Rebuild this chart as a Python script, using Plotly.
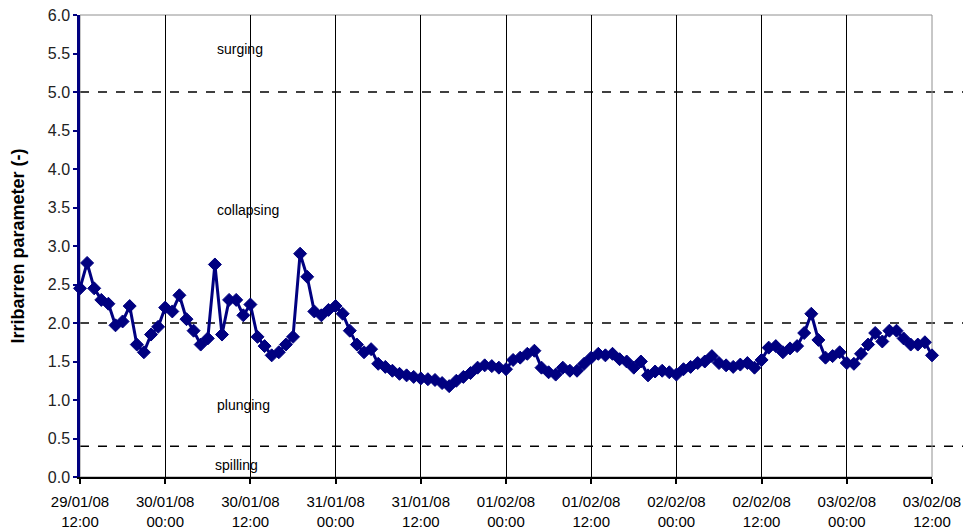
import pandas as pd
import plotly.graph_objects as go

start_time = "2008-01-29 12:00"
end_time = "2008-02-03 12:00"

# Hourly Irribarren parameter values
iribarren = [
    2.45, 2.78, 2.45, 2.30, 2.25, 1.97, 2.02, 2.22, 1.72, 1.62, 1.85, 1.95,
    2.20, 2.15, 2.36, 2.05, 1.90, 1.72, 1.80, 2.76, 1.85, 2.30, 2.30, 2.10,
    2.24, 1.82, 1.70, 1.58, 1.62, 1.72, 1.82, 2.90, 2.60, 2.15, 2.10, 2.17,
    2.22, 2.12, 1.90, 1.72, 1.62, 1.66, 1.47, 1.43, 1.38, 1.34, 1.32, 1.30,
    1.28, 1.27, 1.26, 1.22, 1.18, 1.25, 1.30, 1.35, 1.42, 1.45, 1.44, 1.42,
    1.40, 1.52, 1.55, 1.60, 1.64, 1.42, 1.36, 1.33, 1.42, 1.38, 1.38, 1.47,
    1.55, 1.60, 1.58, 1.60, 1.53, 1.50, 1.42, 1.50, 1.32, 1.37, 1.38, 1.36,
    1.33, 1.40, 1.43, 1.48, 1.50, 1.57, 1.48, 1.45, 1.43, 1.46, 1.48, 1.42,
    1.52, 1.68, 1.70, 1.62, 1.67, 1.70, 1.87, 2.12, 1.78, 1.55, 1.57, 1.62,
    1.48, 1.47, 1.60, 1.72, 1.87, 1.76, 1.90, 1.90, 1.80, 1.72, 1.72, 1.75,
    1.58,
]
times = pd.date_range(start_time, periods=len(iribarren), freq="h")

tick_times = pd.date_range(start_time, end_time, freq="12h")
tick_labels = [t.strftime("%d/%m/%y") + "<br>" + t.strftime("%H:%M") for t in tick_times]

y_ticks = [0.0, 0.5, 1.0, 1.5, 2.0, 2.5, 3.0, 3.5, 4.0, 4.5, 5.0, 5.5, 6.0]
threshold_values = [0.4, 2.0, 5.0]

regime_labels = ["surging", "collapsing", "plunging", "spilling"]
regime_y = [5.56, 3.47, 0.94, 0.16]
regime_x = ["2008-01-30 10:30", "2008-01-30 11:40", "2008-01-30 11:00", "2008-01-30 10:05"]

fig = go.Figure()
fig.add_trace(go.Scatter(
    x=times, y=iribarren, mode="lines+markers",
    line=dict(color="#000080", width=3),
    marker=dict(symbol="diamond", size=10, color="#000080", line=dict(color="#000080", width=1)),
    showlegend=False, cliponaxis=False,
))

for v in threshold_values:
    fig.add_shape(type="line", xref="paper", yref="y", x0=0, x1=1.045, y0=v, y1=v,
                  line=dict(color="black", width=1.5, dash="dash"), layer="below")

# plot area border (top/right, grey)
fig.add_shape(type="rect", xref="paper", yref="paper", x0=0, x1=1, y0=0, y1=1,
              line=dict(color="#909090", width=1), layer="below")

for t, yv, xv in zip(regime_labels, regime_y, regime_x):
    fig.add_annotation(x=xv, y=yv, text=t, showarrow=False,
                       font=dict(family="Liberation Sans, Arial", size=14, color="black"))

fig.update_layout(
    width=963, height=522,
    margin=dict(l=72, r=39, t=7, b=53, autoexpand=False),
    plot_bgcolor="white", paper_bgcolor="white",
    font=dict(family="Liberation Sans, Arial", color="black"),
    xaxis=dict(
        range=[start_time, end_time],
        tickmode="array", tickvals=tick_times, ticktext=tick_labels,
        tickfont=dict(size=15, color="black"),
        showgrid=True, gridcolor="black", gridwidth=1,
        showline=True, linecolor="black", linewidth=2,
        ticks="outside", ticklen=5, tickcolor="black", tickwidth=2,
        ticklabelstandoff=5,
        zeroline=False, automargin=False, ticklabeloverflow="allow",
    ),
    yaxis=dict(
        range=[0, 6],
        tickmode="array", tickvals=y_ticks, ticktext=[f"{v:.1f}" for v in y_ticks],
        tickfont=dict(size=16, color="#222222"),
        showgrid=False,
        showline=True, linecolor="#000080", linewidth=2.5,
        ticks="outside", ticklen=4, tickcolor="#000080", tickwidth=2,
        zeroline=False, automargin=False, ticklabeloverflow="allow",
        title=dict(text="<b>Irribarren parameter (-)</b>", font=dict(size=18, color="black"), standoff=21),
    ),
)

fig.write_html("out.html")
